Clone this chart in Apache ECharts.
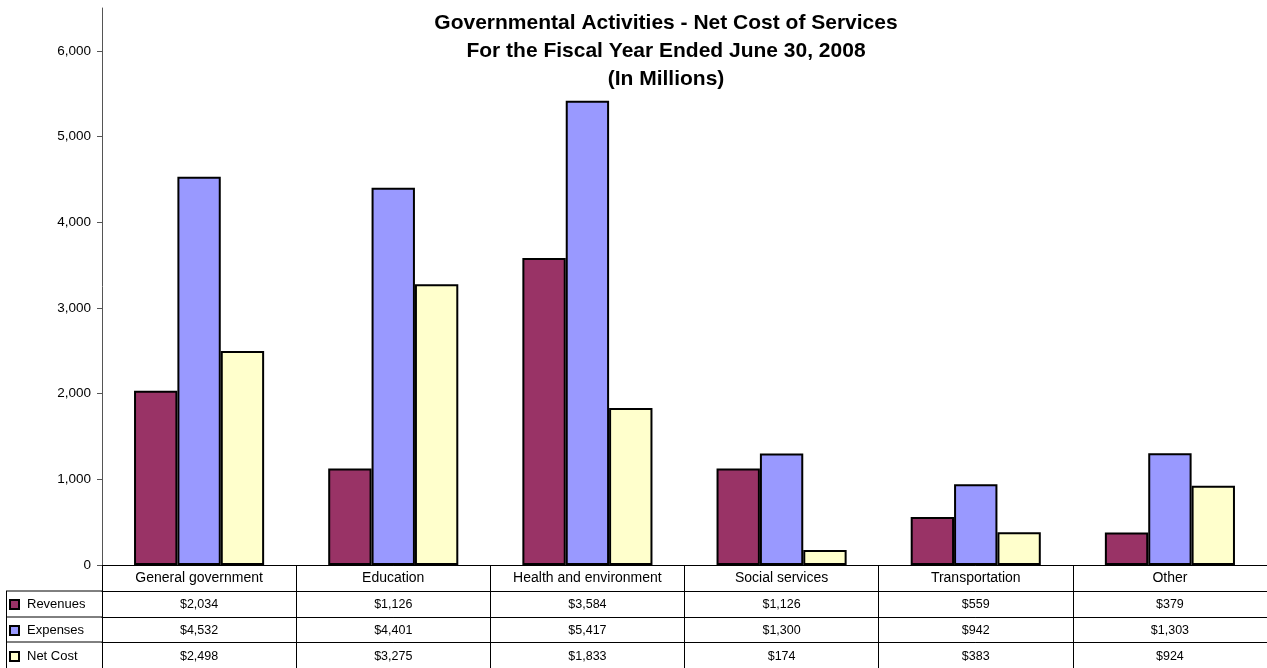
<!DOCTYPE html>
<html>
<head>
<meta charset="utf-8">
<script src="https://cdn.jsdelivr.net/npm/echarts@6/dist/echarts.min.js"></script>
<style>
html,body{margin:0;padding:0;background:#fff;}
#chart{width:1267px;height:668px;}
</style>
</head>
<body>
<div id="chart"></div>
<script>
const categories = ["General government","Education","Health and environment","Social services","Transportation","Other"];
const revenues = [2034,1126,3584,1126,559,379];
const expenses = [4532,4401,5417,1300,942,1303];
const netCost = [2498,3275,1833,174,383,924];
const yTicks = [0,1000,2000,3000,4000,5000,6000];
const seriesNames = ["Revenues","Expenses","Net Cost"];

const FONT = "'Liberation Sans', Arial, sans-serif";
const fmt = v => v.toLocaleString('en-US');
const money = v => '$' + fmt(v);

const chart = echarts.init(document.getElementById('chart'));

function rowAxis(offset, formatter, fontSize, margin){
  return {
    type:'category', data:categories, position:'bottom', offset:offset, gridIndex:0,
    axisLine:{show:true, lineStyle:{color:'#000', width:1}},
    axisTick:{show:true, interval:0, alignWithLabel:false, inside:false, length:26, lineStyle:{color:'#000', width:1}},
    axisLabel:{show:true, interval:0, margin:margin, color:'#000', fontSize:fontSize, fontFamily:FONT, formatter:formatter},
    splitLine:{show:false}
  };
}

const barStyle = c => ({color:c, borderColor:'#000', borderWidth:2});

function legendRow(name, top){
  return {
    orient:'horizontal', left:9, top:top, itemWidth:9, itemHeight:9, itemGap:0,
    icon:'rect', data:[name], padding:[0,0,0,0],
    itemStyle:{borderWidth:2, borderColor:'#000'},
    textStyle:{fontFamily:FONT, fontSize:13, color:'#000', padding:[0,0,0,3]},
    selectedMode:false
  };
}

chart.setOption({
  animation:false,
  backgroundColor:'#fff',
  title:{
    text:'Governmental Activities - Net Cost of Services\nFor the Fiscal Year Ended June 30, 2008\n(In Millions)',
    left:661, textAlign:'center', top:4,
    textStyle:{fontFamily:FONT, fontSize:21, fontWeight:'bold', color:'#000', lineHeight:28}
  },
  legend:[
    legendRow(seriesNames[0], 598),
    legendRow(seriesNames[1], 624),
    legendRow(seriesNames[2], 650)
  ],
  grid:{left:102, right:0, top:8, bottom:103, containLabel:false},
  xAxis:[
    rowAxis(0, v => v, 14, 6),
    rowAxis(26, (v,i) => money(revenues[i]), 12.5, 7),
    rowAxis(52, (v,i) => money(expenses[i]), 12.5, 7),
    rowAxis(77, (v,i) => money(netCost[i]), 12.5, 8)
  ],
  yAxis:{
    type:'value', min:0, max:6500,
    axisLine:{show:true, lineStyle:{color:'#555', width:1}},
    axisTick:{show:true, length:5, customValues:yTicks, lineStyle:{color:'#555'}},
    axisLabel:{show:true, customValues:yTicks, margin:11, color:'#000', fontSize:13.5, fontFamily:FONT, formatter:v => fmt(v)},
    splitLine:{show:false}
  },
  series:[
    {name:seriesNames[0], type:'bar', data:revenues, barGap:'0%', barCategoryGap:'33%', itemStyle:barStyle('#993366')},
    {name:seriesNames[1], type:'bar', data:expenses, barGap:'0%', barCategoryGap:'33%', itemStyle:barStyle('#9999FF')},
    {name:seriesNames[2], type:'bar', data:netCost, barGap:'0%', barCategoryGap:'33%', itemStyle:barStyle('#FFFFCC')}
  ],
  graphic:[
    {type:'line', shape:{x1:6, y1:591, x2:102, y2:591}, style:{stroke:'#000', lineWidth:1}},
    {type:'line', shape:{x1:6, y1:617, x2:102, y2:617}, style:{stroke:'#000', lineWidth:1}},
    {type:'line', shape:{x1:6, y1:642, x2:102, y2:642}, style:{stroke:'#000', lineWidth:1}},
    {type:'line', shape:{x1:6.5, y1:591, x2:6.5, y2:668}, style:{stroke:'#000', lineWidth:1}}
  ]
});
</script>
</body>
</html>
